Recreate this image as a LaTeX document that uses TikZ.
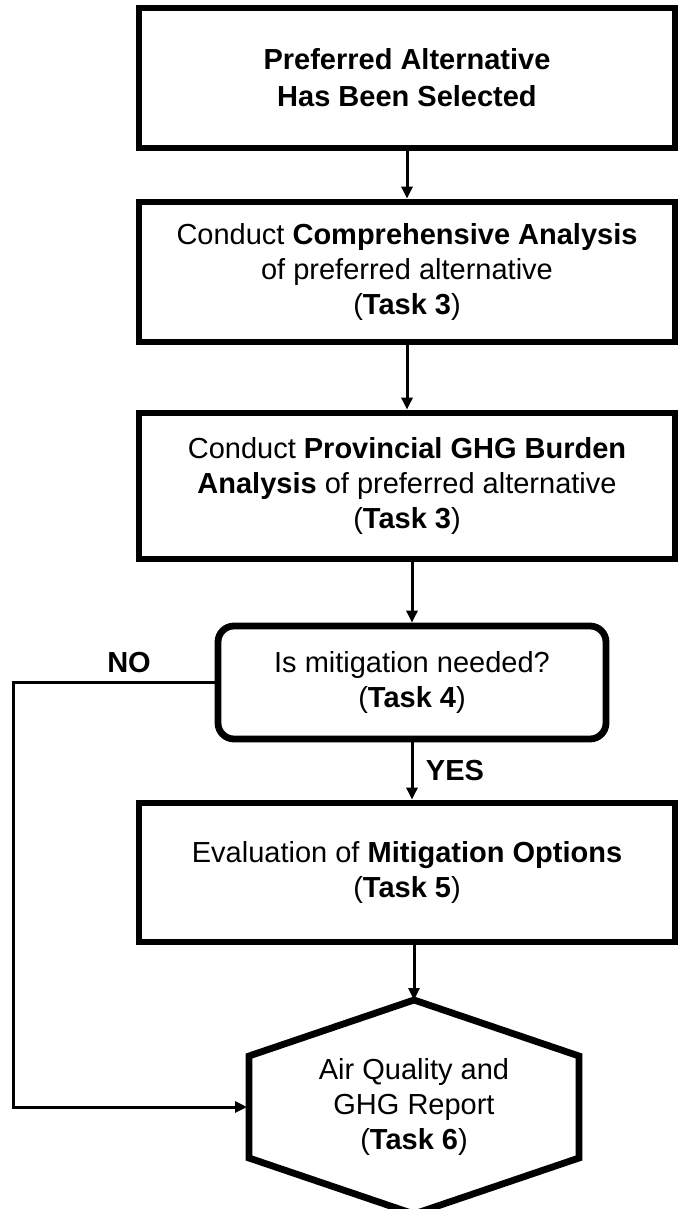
\documentclass[tikz,border=0pt]{standalone}
\usepackage{fontspec}
\setmainfont{Liberation Sans}
\usetikzlibrary{arrows.meta,calc}

\begin{document}
\begin{tikzpicture}[x=0.5pt,y=-0.5pt,
	every node/.style={font=\fontsize{14.5pt}{17.5pt}\selectfont, align=center},
	stepbox/.style={draw, line width=3.4pt, minimum width=268pt, minimum height=70pt, inner sep=0pt},
	decbox/.style={draw, line width=3.4pt, rounded corners=8pt, minimum width=194pt, minimum height=56.5pt, inner sep=0pt},
	flow/.style={line width=1.5pt, -{Triangle[length=6pt,width=5.5pt]}}]

		\useasboundingbox (0,0) rectangle (678,1209);

		% boxes
		\node[stepbox, font=\fontsize{14.5pt}{18.5pt}\selectfont\bfseries] (b1) at (407,78)
			{Preferred Alternative\\Has Been Selected};
		\node[stepbox] (b2) at (407,272)
			{Conduct \textbf{Comprehensive Analysis}\\of preferred alternative\\(\textbf{Task 3})};
		\node[stepbox, minimum height=73pt] (b3) at (407,486)
			{Conduct \textbf{Provincial GHG Burden}\\\textbf{Analysis} of preferred alternative\\(\textbf{Task 3})};
		\node[decbox] (dec) at (412,682.5)
			{Is mitigation needed?\\(\textbf{Task 4})};
		\node[stepbox, minimum height=69.5pt] (b5) at (407,872.5)
			{Evaluation of \textbf{Mitigation Options}\\(\textbf{Task 5})};

		% hexagon (report)
		\node[minimum width=163pt, minimum height=103pt, inner sep=0pt, outer sep=2pt] (hex) at (414,1107)
			{Air Quality and\\GHG Report\\(\textbf{Task 6})};
		\draw[line width=3.4pt] (hex.north) -- ($(hex.north east)+(-2,56)$) --
			($(hex.south east)+(-2,-56)$) -- (hex.south) --
			($(hex.south west)+(2,-56)$) -- ($(hex.north west)+(2,56)$) -- cycle;

		% connectors
		\draw[flow] (b1) -- (b2);
		\draw[flow] (b2) -- (b3);
		\draw[flow] (b3.south -| dec.north) -- (dec.north);
		\draw[flow] (dec.south) -- (dec.south |- b5.north);
		\draw[flow] (b5.south -| hex.north) -- (hex.north);

		% NO branch
		\coordinate (noturn) at (13,682.5);
		\draw[flow] (dec.west) -- (noturn) |- (hex.west);

		% labels
		\node[font=\fontsize{14.5pt}{17.5pt}\selectfont\bfseries] (lblno) at (129,663) {NO};
		\node[font=\fontsize{14.5pt}{17.5pt}\selectfont\bfseries] (lblyes) at (455,771) {YES};

	\end{tikzpicture}
\end{document}
